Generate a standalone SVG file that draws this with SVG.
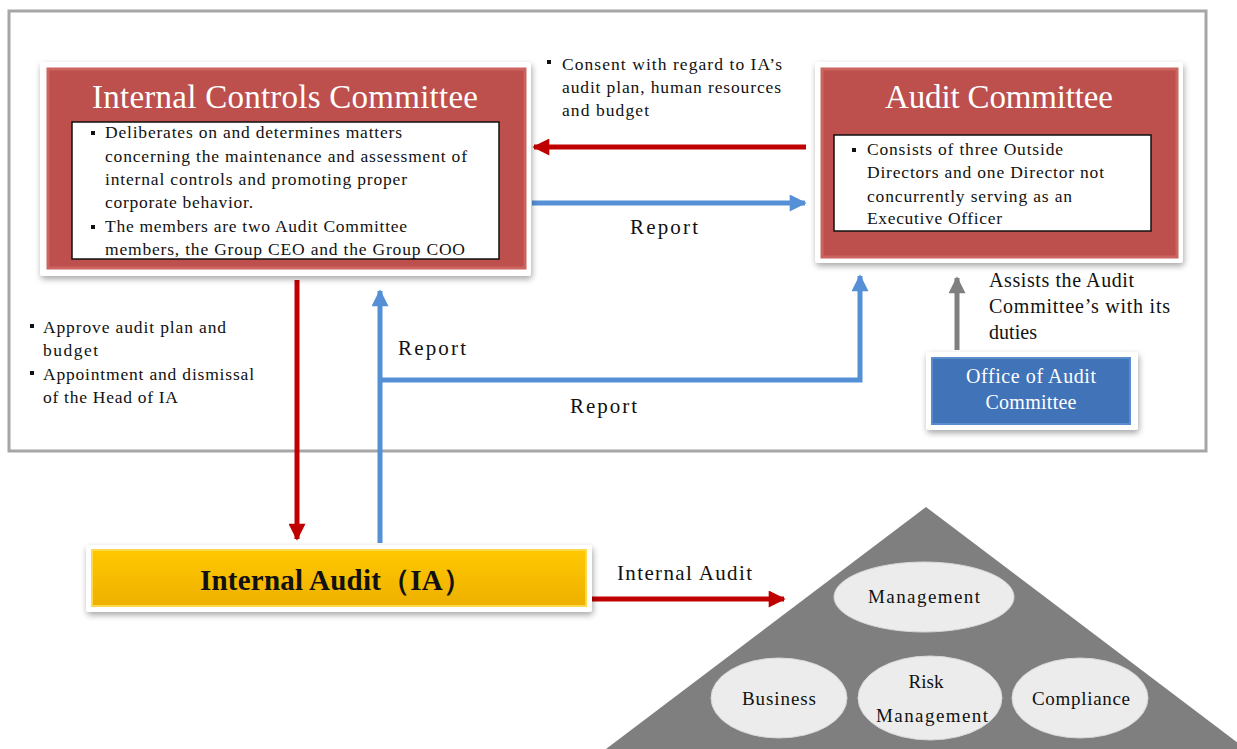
<svg xmlns="http://www.w3.org/2000/svg" width="1237" height="749" viewBox="0 0 1237 749">
<defs>
<style>
.t{font-family:"Liberation Serif","Times New Roman",serif;fill:#111;}
.b16{font-size:17.5px;}
.w{fill:#fff;}
.card{fill:#fff;filter:url(#sh);}
.red{fill:#bd4f4c;stroke:#cc6461;stroke-width:3;}
.inner{fill:#fff;stroke:#111;stroke-width:1.5;}
.ell{fill:#ececec;stroke:#d8d8d8;stroke-width:1;}
.cr{stroke:#c00000;stroke-width:5;fill:none;}
.cb{stroke:#5590d6;stroke-width:5;fill:none;}
.cg{stroke:#7f7f7f;stroke-width:5;fill:none;}
</style>
<filter id="sh" x="-10%" y="-10%" width="120%" height="130%">
<feDropShadow dx="1" dy="3" stdDeviation="3" flood-color="#000" flood-opacity="0.35"/>
</filter>
<linearGradient id="gold" x1="0" y1="0" x2="0" y2="1">
<stop offset="0" stop-color="#ffc800"/>
<stop offset="1" stop-color="#eeb000"/>
</linearGradient>
<marker id="ar" viewBox="0 0 10 10" refX="9" refY="5" markerUnits="userSpaceOnUse" markerWidth="18" markerHeight="17" orient="auto"><path d="M0,0 L10,5 L0,10 z" fill="#c00000"/></marker>
<marker id="ab" viewBox="0 0 10 10" refX="9" refY="5" markerUnits="userSpaceOnUse" markerWidth="18" markerHeight="17" orient="auto"><path d="M0,0 L10,5 L0,10 z" fill="#5590d6"/></marker>
<marker id="ag" viewBox="0 0 10 10" refX="9" refY="5" markerUnits="userSpaceOnUse" markerWidth="18" markerHeight="17" orient="auto"><path d="M0,0 L10,5 L0,10 z" fill="#7f7f7f"/></marker>
</defs>
<rect width="1237" height="749" fill="#fff"/>
<rect x="9" y="11" width="1197" height="440" fill="#fff" stroke="#a6a6a6" stroke-width="3"/>

<g id="pyramid">
<polygon points="926,507 606,749 1246,749" fill="#7f7f7f"/>
</g>
<g id="management">
<ellipse class="ell" cx="924" cy="597" rx="90" ry="35"/>
<text class="t" x="924" y="603" font-size="19" text-anchor="middle" textLength="112" lengthAdjust="spacing">Management</text>
</g>
<g id="business">
<ellipse class="ell" cx="779" cy="698" rx="68" ry="40"/>
<text class="t" x="779" y="705" font-size="19" text-anchor="middle" textLength="74" lengthAdjust="spacing">Business</text>
</g>
<g id="risk">
<ellipse class="ell" cx="930" cy="698" rx="72" ry="42"/>
<text class="t" x="926" y="688" font-size="19" text-anchor="middle">Risk</text>
<text class="t" x="932" y="722" font-size="19" text-anchor="middle" textLength="112" lengthAdjust="spacing">Management</text>
</g>
<g id="compliance">
<ellipse class="ell" cx="1080" cy="698" rx="68" ry="40"/>
<text class="t" x="1081" y="705" font-size="19" text-anchor="middle" textLength="98" lengthAdjust="spacing">Compliance</text>
</g>

<g id="connectors">
<line class="cr" x1="806" y1="147" x2="534" y2="147" marker-end="url(#ar)"/>
<line class="cb" x1="532" y1="203" x2="805" y2="203" marker-end="url(#ab)"/>
<line class="cr" x1="297" y1="280" x2="297" y2="539" marker-end="url(#ar)"/>
<line class="cb" x1="380" y1="543" x2="380" y2="291" marker-end="url(#ab)"/>
<polyline class="cb" points="380,380 860,380 860,276" marker-end="url(#ab)"/>
<line class="cg" x1="957" y1="350" x2="957" y2="278" marker-end="url(#ag)"/>
<line class="cr" x1="592" y1="599" x2="784" y2="599" marker-end="url(#ar)"/>
</g>

<g id="labels">
<rect x="547" y="60" width="4" height="4" fill="#111"/>
<text class="t b16" x="562" y="70" textLength="220" lengthAdjust="spacing">Consent with regard to IA’s</text>
<text class="t b16" x="562" y="93" textLength="219" lengthAdjust="spacing">audit plan, human resources</text>
<text class="t b16" x="562" y="116" textLength="87" lengthAdjust="spacing">and budget</text>
<text class="t" x="630" y="234" font-size="21" textLength="68" lengthAdjust="spacing">Report</text>
<rect x="30" y="324" width="4" height="4" fill="#111"/>
<text class="t b16" x="43" y="333" textLength="183" lengthAdjust="spacing">Approve audit plan and</text>
<text class="t b16" x="43" y="356" textLength="55" lengthAdjust="spacing">budget</text>
<rect x="30" y="371" width="4" height="4" fill="#111"/>
<text class="t b16" x="43" y="380" textLength="211" lengthAdjust="spacing">Appointment and dismissal</text>
<text class="t b16" x="43" y="403" textLength="135" lengthAdjust="spacing">of the Head of IA</text>
<text class="t" x="398" y="355" font-size="21" textLength="68" lengthAdjust="spacing">Report</text>
<text class="t" x="570" y="413" font-size="21" textLength="67" lengthAdjust="spacing">Report</text>
<text class="t" x="989" y="287" font-size="20" textLength="145" lengthAdjust="spacing">Assists the Audit</text>
<text class="t" x="989" y="313" font-size="20" textLength="181" lengthAdjust="spacing">Committee’s with its</text>
<text class="t" x="989" y="339" font-size="20" textLength="48" lengthAdjust="spacing">duties</text>
<text class="t" x="617" y="580" font-size="21" textLength="135" lengthAdjust="spacing">Internal Audit</text>
</g>

<g id="icc">
<rect class="card" x="40" y="62" width="491" height="214" rx="3"/>
<rect class="red" x="48" y="69" width="477" height="199"/>
<text class="t w" x="285" y="108" font-size="33" text-anchor="middle" textLength="386" lengthAdjust="spacing">Internal Controls Committee</text>
<rect class="inner" x="72" y="122" width="427" height="137"/>
<rect x="91" y="131" width="4" height="4" fill="#111"/>
<text class="t b16" x="105" y="138" textLength="297" lengthAdjust="spacing">Deliberates on and determines matters</text>
<text class="t b16" x="105" y="162" textLength="362" lengthAdjust="spacing">concerning the maintenance and assessment of</text>
<text class="t b16" x="105" y="185" textLength="302" lengthAdjust="spacing">internal controls and promoting proper</text>
<text class="t b16" x="105" y="208" textLength="148" lengthAdjust="spacing">corporate behavior.</text>
<rect x="91" y="225" width="4" height="4" fill="#111"/>
<text class="t b16" x="105" y="232" textLength="302" lengthAdjust="spacing">The members are two Audit Committee</text>
<text class="t b16" x="105" y="255" textLength="360" lengthAdjust="spacing">members, the Group CEO and the Group COO</text>
</g>

<g id="ac">
<rect class="card" x="815" y="62" width="368" height="201" rx="3"/>
<rect class="red" x="822" y="69" width="355" height="188"/>
<text class="t w" x="999" y="108" font-size="33" text-anchor="middle" textLength="228" lengthAdjust="spacing">Audit Committee</text>
<rect class="inner" x="834" y="135" width="317" height="96"/>
<rect x="852" y="148" width="4" height="4" fill="#111"/>
<text class="t b16" x="867" y="155" textLength="196" lengthAdjust="spacing">Consists of three Outside</text>
<text class="t b16" x="867" y="178" textLength="237" lengthAdjust="spacing">Directors and one Director not</text>
<text class="t b16" x="867" y="202" textLength="205" lengthAdjust="spacing">concurrently serving as an</text>
<text class="t b16" x="867" y="224" textLength="135" lengthAdjust="spacing">Executive Officer</text>
</g>

<g id="office">
<rect class="card" x="926" y="352" width="212" height="78" rx="3"/>
<rect x="932" y="358" width="198" height="66" fill="#4173b8" stroke="#5a8ccc" stroke-width="2"/>
<text class="t w" x="1031" y="383" font-size="20" text-anchor="middle" textLength="130" lengthAdjust="spacing">Office of Audit</text>
<text class="t w" x="1031" y="409" font-size="20" text-anchor="middle" textLength="91" lengthAdjust="spacing">Committee</text>
</g>

<g id="ia">
<rect class="card" x="86" y="545" width="506" height="67" rx="3"/>
<rect x="92" y="550" width="494" height="56" fill="url(#gold)" stroke="#ffd84a" stroke-width="2"/>
<text class="t" x="336" y="590" font-size="29" font-weight="bold" text-anchor="middle" textLength="272" lengthAdjust="spacing">Internal Audit（IA）</text>
</g>
</svg>
